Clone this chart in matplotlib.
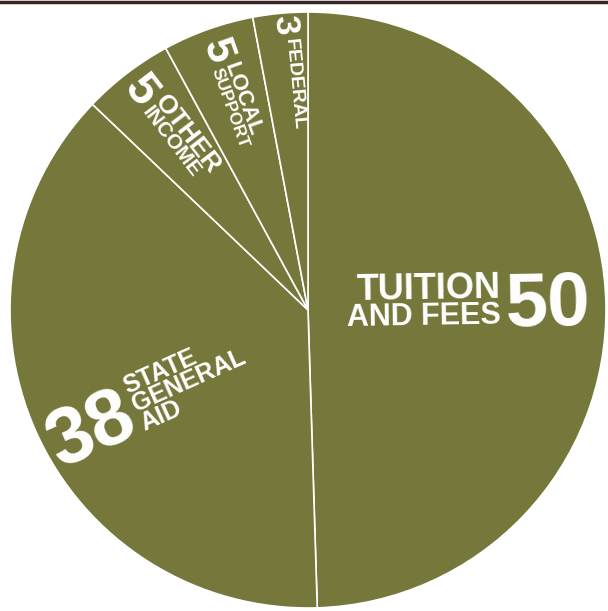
import numpy as np
import matplotlib
matplotlib.use("Agg")
import matplotlib.pyplot as plt
from matplotlib.lines import Line2D

# Revenue shares (percent), clockwise from 12 o'clock
sources = ["TUITION AND FEES", "STATE GENERAL AID", "OTHER INCOME", "LOCAL SUPPORT", "FEDERAL"]
shares = [50, 38, 5, 5, 3]

# caption lines stacked next to each big number
caption_lines = [
    ["TUITION", "AND FEES"],
    ["STATE", "GENERAL", "AID"],
    ["OTHER", "INCOME"],
    ["LOCAL", "SUPPORT"],
    ["FEDERAL"],
]

OLIVE = "#76773a"
FONT = ["Liberation Sans", "DejaVu Sans"]

fig = plt.figure(figsize=(6.08, 6.11), dpi=100)
ax = fig.add_axes([0, 0, 1, 1])

wedges, _ = ax.pie(shares, startangle=90, counterclock=False,
                   colors=[OLIVE] * len(shares),
                   wedgeprops=dict(edgecolor="white", linewidth=1.2))

# pie centre sits at (308, 310) px, radius 298 px
R_PX = 298.0
ax.set_xlim(-308 / R_PX, (608 - 308) / R_PX)
ax.set_ylim(-(611 - 310) / R_PX, 310 / R_PX)
ax.set_aspect("equal")
ax.axis("off")

# thin dark rule along the top edge
fig.add_artist(Line2D([0, 1], [0.9975, 0.9975], transform=fig.transFigure,
                      color="#3b2224", linewidth=2.5))

# per-slice layout: split radius, sideways shift (px), number size,
# (size, baseline offset px) per caption line
layout = [
    dict(r=0.655, shift=8, num=55, lines=[(26, 29), (22, 3)]),
    dict(r=0.675, shift=-15, num=57, lines=[(18, 40), (18, 20), (18, 0)]),
    dict(r=0.875, shift=5, num=34, lines=[(19, 16), (15, 0)]),
    dict(r=0.875, shift=5, num=30, lines=[(16, 13.5), (12.5, 0)]),
    dict(r=0.92, shift=6, num=25, lines=[(14, 10)]),
]
GAP = 1.5
PT = 0.72  # points per pixel at 100 dpi


def put_label(w, value, lines, spec):
    mid = np.deg2rad((w.theta1 + w.theta2) / 2)
    x, y = spec["r"] * np.cos(mid), spec["r"] * np.sin(mid)
    if np.cos(mid) >= 0:
        rot = np.rad2deg(mid)
        num_ha, cap_ha, sgn = "left", "right", 1
    else:
        rot = np.rad2deg(mid) - 180
        num_ha, cap_ha, sgn = "right", "left", -1
    a = np.deg2rad(rot)
    along = np.array([np.cos(a), np.sin(a)])
    up = np.array([-np.sin(a), np.cos(a)])
    # baseline of the number, so that its cap centre sits `shift` px off the midline
    base = (spec["shift"] * PT - 0.5 * 0.716 * spec["num"]) * up

    off = base + sgn * GAP * along
    ax.annotate(str(value), xy=(x, y), xytext=tuple(off), textcoords="offset points",
                rotation=rot, rotation_mode="anchor", ha=num_ha, va="baseline",
                color="white", fontsize=spec["num"], fontweight="bold", family=FONT)
    for txt, (size, boff) in zip(lines, spec["lines"]):
        off = base + boff * PT * up - sgn * GAP * along
        ax.annotate(txt, xy=(x, y), xytext=tuple(off), textcoords="offset points",
                    rotation=rot, rotation_mode="anchor", ha=cap_ha, va="baseline",
                    color="white", fontsize=size, fontweight="bold", family=FONT)


for w, v, ln, spec in zip(wedges, shares, caption_lines, layout):
    put_label(w, v, ln, spec)

fig.savefig("out.png", dpi=100, facecolor="white")
